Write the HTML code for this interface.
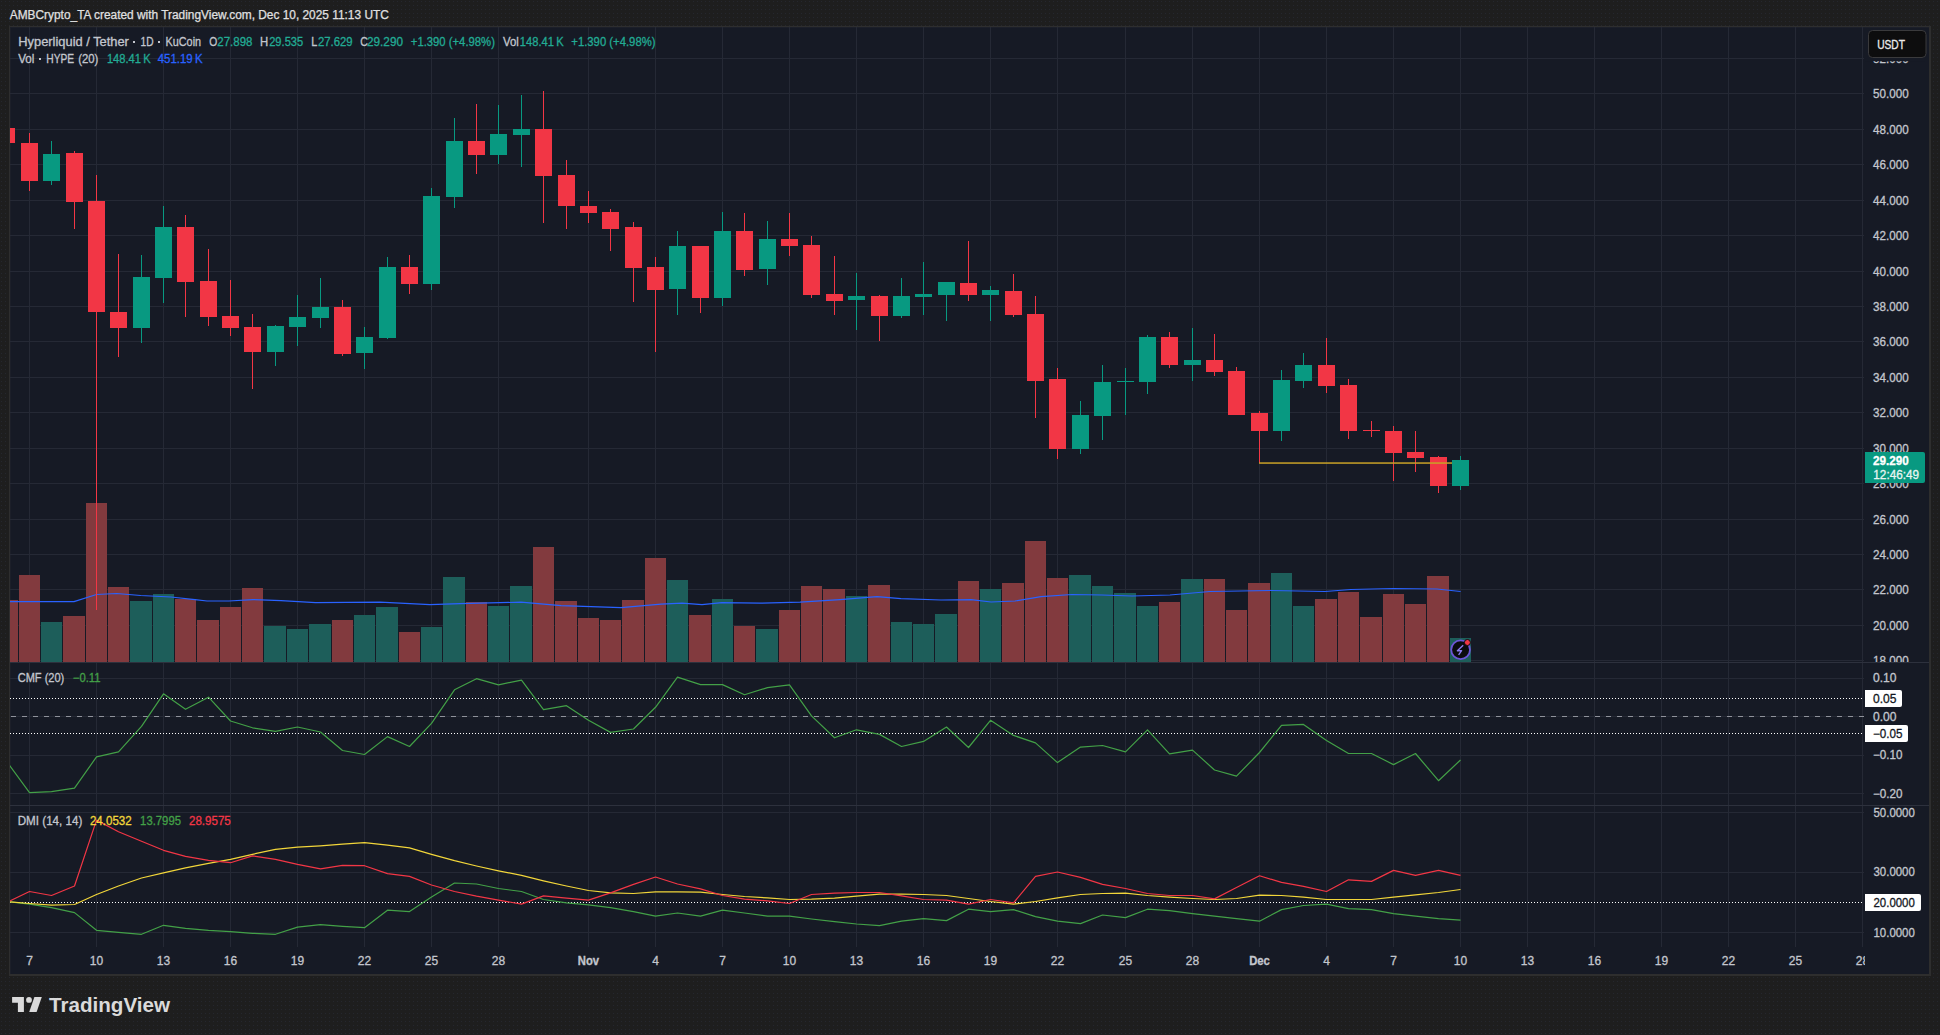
<!DOCTYPE html>
<html><head><meta charset="utf-8"><title>HYPEUSDT chart</title>
<style>
html,body{margin:0;padding:0;}
body{width:1940px;height:1035px;background:#1e1e1e;position:relative;overflow:hidden;font-family:'Liberation Sans', Arial, sans-serif;}
.hdr{position:absolute;left:10px;top:8px;font-size:12px;line-height:14px;color:#e0e0e0;white-space:nowrap;}
.logo{position:absolute;left:12px;top:993px;height:24px;}
.logo span{position:absolute;left:37px;top:-2px;font-size:20px;font-weight:bold;color:#d9d9d9;letter-spacing:-0.2px;white-space:nowrap;}
</style></head><body>
<svg width="1940" height="1035" viewBox="0 0 1940 1035" style="position:absolute;left:0;top:0"><defs><clipPath id="c1"><rect x="10" y="27" width="1854" height="635"/></clipPath><clipPath id="c2"><rect x="10" y="663" width="1854" height="142"/></clipPath><clipPath id="c3"><rect x="10" y="806" width="1854" height="140"/></clipPath><clipPath id="ct"><rect x="10" y="946" width="1855" height="28"/></clipPath><pattern id="dots" width="4" height="4" patternUnits="userSpaceOnUse"><rect x="1" y="1" width="1" height="1" fill="#25272e"/></pattern></defs><rect x="0" y="0" width="1940" height="1035" fill="url(#dots)"/><rect x="9" y="26" width="1922" height="950" fill="#2e2e2e"/><rect x="10" y="27" width="1919" height="947" fill="#1c1f29"/><rect x="11" y="28" width="1918" height="946" fill="#161a25"/><g shape-rendering="crispEdges" fill="#252935"><rect x="29" y="27" width="1" height="920"/><rect x="96" y="27" width="1" height="920"/><rect x="163" y="27" width="1" height="920"/><rect x="230" y="27" width="1" height="920"/><rect x="297" y="27" width="1" height="920"/><rect x="364" y="27" width="1" height="920"/><rect x="431" y="27" width="1" height="920"/><rect x="498" y="27" width="1" height="920"/><rect x="588" y="27" width="1" height="920"/><rect x="655" y="27" width="1" height="920"/><rect x="722" y="27" width="1" height="920"/><rect x="789" y="27" width="1" height="920"/><rect x="856" y="27" width="1" height="920"/><rect x="923" y="27" width="1" height="920"/><rect x="990" y="27" width="1" height="920"/><rect x="1057" y="27" width="1" height="920"/><rect x="1125" y="27" width="1" height="920"/><rect x="1192" y="27" width="1" height="920"/><rect x="1259" y="27" width="1" height="920"/><rect x="1326" y="27" width="1" height="920"/><rect x="1393" y="27" width="1" height="920"/><rect x="1460" y="27" width="1" height="920"/><rect x="1527" y="27" width="1" height="920"/><rect x="1594" y="27" width="1" height="920"/><rect x="1661" y="27" width="1" height="920"/><rect x="1728" y="27" width="1" height="920"/><rect x="1795" y="27" width="1" height="920"/><rect x="1862" y="27" width="1" height="920"/></g><g shape-rendering="crispEdges" fill="#252935"><rect x="10" y="660" width="1854" height="1"/><rect x="10" y="625" width="1854" height="1"/><rect x="10" y="589" width="1854" height="1"/><rect x="10" y="554" width="1854" height="1"/><rect x="10" y="519" width="1854" height="1"/><rect x="10" y="483" width="1854" height="1"/><rect x="10" y="448" width="1854" height="1"/><rect x="10" y="412" width="1854" height="1"/><rect x="10" y="377" width="1854" height="1"/><rect x="10" y="341" width="1854" height="1"/><rect x="10" y="306" width="1854" height="1"/><rect x="10" y="271" width="1854" height="1"/><rect x="10" y="235" width="1854" height="1"/><rect x="10" y="200" width="1854" height="1"/><rect x="10" y="164" width="1854" height="1"/><rect x="10" y="129" width="1854" height="1"/><rect x="10" y="93" width="1854" height="1"/><rect x="10" y="58" width="1854" height="1"/><rect x="10" y="678" width="1854" height="1"/><rect x="10" y="716" width="1854" height="1"/><rect x="10" y="755" width="1854" height="1"/><rect x="10" y="793" width="1854" height="1"/><rect x="10" y="812" width="1854" height="1"/><rect x="10" y="872" width="1854" height="1"/><rect x="10" y="932" width="1854" height="1"/></g><g clip-path="url(#c1)" shape-rendering="crispEdges"><rect x="-4" y="600" width="22" height="62" fill="#823a3e"/><rect x="19" y="575" width="21" height="87" fill="#823a3e"/><rect x="41" y="622" width="21" height="40" fill="#1d5e5a"/><rect x="63" y="616" width="22" height="46" fill="#823a3e"/><rect x="86" y="503" width="21" height="159" fill="#823a3e"/><rect x="108" y="587" width="21" height="75" fill="#823a3e"/><rect x="130" y="601" width="22" height="61" fill="#1d5e5a"/><rect x="153" y="594" width="21" height="68" fill="#1d5e5a"/><rect x="175" y="599" width="21" height="63" fill="#823a3e"/><rect x="197" y="620" width="22" height="42" fill="#823a3e"/><rect x="220" y="607" width="21" height="55" fill="#823a3e"/><rect x="242" y="588" width="21" height="74" fill="#823a3e"/><rect x="264" y="626" width="22" height="36" fill="#1d5e5a"/><rect x="287" y="629" width="21" height="33" fill="#1d5e5a"/><rect x="309" y="624" width="22" height="38" fill="#1d5e5a"/><rect x="332" y="620" width="21" height="42" fill="#823a3e"/><rect x="354" y="615" width="21" height="47" fill="#1d5e5a"/><rect x="376" y="607" width="22" height="55" fill="#1d5e5a"/><rect x="399" y="632" width="21" height="30" fill="#823a3e"/><rect x="421" y="627" width="21" height="35" fill="#1d5e5a"/><rect x="443" y="577" width="22" height="85" fill="#1d5e5a"/><rect x="466" y="602" width="21" height="60" fill="#823a3e"/><rect x="488" y="606" width="21" height="56" fill="#1d5e5a"/><rect x="510" y="586" width="22" height="76" fill="#1d5e5a"/><rect x="533" y="547" width="21" height="115" fill="#823a3e"/><rect x="555" y="601" width="22" height="61" fill="#823a3e"/><rect x="578" y="618" width="21" height="44" fill="#823a3e"/><rect x="600" y="620" width="21" height="42" fill="#823a3e"/><rect x="622" y="600" width="22" height="62" fill="#823a3e"/><rect x="645" y="558" width="21" height="104" fill="#823a3e"/><rect x="667" y="580" width="21" height="82" fill="#1d5e5a"/><rect x="689" y="615" width="22" height="47" fill="#823a3e"/><rect x="712" y="599" width="21" height="63" fill="#1d5e5a"/><rect x="734" y="626" width="21" height="36" fill="#823a3e"/><rect x="756" y="629" width="22" height="33" fill="#1d5e5a"/><rect x="779" y="610" width="21" height="52" fill="#823a3e"/><rect x="801" y="586" width="21" height="76" fill="#823a3e"/><rect x="823" y="589" width="22" height="73" fill="#823a3e"/><rect x="846" y="596" width="21" height="66" fill="#1d5e5a"/><rect x="868" y="585" width="22" height="77" fill="#823a3e"/><rect x="891" y="622" width="21" height="40" fill="#1d5e5a"/><rect x="913" y="624" width="21" height="38" fill="#1d5e5a"/><rect x="935" y="614" width="22" height="48" fill="#1d5e5a"/><rect x="958" y="581" width="21" height="81" fill="#823a3e"/><rect x="980" y="589" width="21" height="73" fill="#1d5e5a"/><rect x="1002" y="583" width="22" height="79" fill="#823a3e"/><rect x="1025" y="541" width="21" height="121" fill="#823a3e"/><rect x="1047" y="578" width="21" height="84" fill="#823a3e"/><rect x="1069" y="575" width="22" height="87" fill="#1d5e5a"/><rect x="1092" y="586" width="21" height="76" fill="#1d5e5a"/><rect x="1114" y="593" width="22" height="69" fill="#1d5e5a"/><rect x="1137" y="606" width="21" height="56" fill="#1d5e5a"/><rect x="1159" y="602" width="21" height="60" fill="#823a3e"/><rect x="1181" y="579" width="22" height="83" fill="#1d5e5a"/><rect x="1204" y="579" width="21" height="83" fill="#823a3e"/><rect x="1226" y="610" width="21" height="52" fill="#823a3e"/><rect x="1248" y="583" width="22" height="79" fill="#823a3e"/><rect x="1271" y="573" width="21" height="89" fill="#1d5e5a"/><rect x="1293" y="606" width="21" height="56" fill="#1d5e5a"/><rect x="1315" y="599" width="22" height="63" fill="#823a3e"/><rect x="1338" y="592" width="21" height="70" fill="#823a3e"/><rect x="1360" y="617" width="22" height="45" fill="#823a3e"/><rect x="1383" y="594" width="21" height="68" fill="#823a3e"/><rect x="1405" y="604" width="21" height="58" fill="#823a3e"/><rect x="1427" y="576" width="22" height="86" fill="#823a3e"/><rect x="1450" y="638" width="21" height="24" fill="#1d5e5a"/></g><polyline clip-path="url(#c1)" points="7,601.6 74,601.6 96.5,594.5 116.6,593.5 140.7,595.5 171,597 195,599.6 207,601 229,601 253,599.6 281,600.6 315.6,602.6 380,602.2 430,604.6 460,603.6 521,602.2 561,605.6 621,607.6 661,604.2 682,603.2 702,604.6 722,602.6 760,603.2 800,602.2 840,599.6 877,596.6 901,598.6 941,600 971,599.6 991,602 1015,601 1041,596.6 1072,594.5 1102,595 1132,596 1170,595 1210,591.5 1271,590.5 1325,591.5 1351,589.5 1393,588.5 1437,589 1460.6,591.5" fill="none" stroke="#2962ff" stroke-width="1.2" stroke-linejoin="round"/><g clip-path="url(#c1)" shape-rendering="crispEdges"><rect x="6" y="120" width="1" height="30" fill="#f23645"/><rect x="-2" y="128" width="17" height="15" fill="#f23645"/><rect x="29" y="133" width="1" height="58" fill="#f23645"/><rect x="21" y="143" width="17" height="38" fill="#f23645"/><rect x="51" y="141" width="1" height="44" fill="#089981"/><rect x="43" y="154" width="17" height="27" fill="#089981"/><rect x="74" y="151" width="1" height="78" fill="#f23645"/><rect x="66" y="153" width="17" height="49" fill="#f23645"/><rect x="96" y="175" width="1" height="435" fill="#f23645"/><rect x="88" y="201" width="17" height="111" fill="#f23645"/><rect x="118" y="254" width="1" height="103" fill="#f23645"/><rect x="110" y="312" width="17" height="16" fill="#f23645"/><rect x="141" y="255" width="1" height="88" fill="#089981"/><rect x="133" y="277" width="17" height="51" fill="#089981"/><rect x="163" y="206" width="1" height="97" fill="#089981"/><rect x="155" y="227" width="17" height="51" fill="#089981"/><rect x="185" y="215" width="1" height="102" fill="#f23645"/><rect x="177" y="227" width="17" height="55" fill="#f23645"/><rect x="208" y="249" width="1" height="77" fill="#f23645"/><rect x="200" y="281" width="17" height="36" fill="#f23645"/><rect x="230" y="280" width="1" height="56" fill="#f23645"/><rect x="222" y="316" width="17" height="12" fill="#f23645"/><rect x="252" y="314" width="1" height="75" fill="#f23645"/><rect x="244" y="327" width="17" height="25" fill="#f23645"/><rect x="275" y="325" width="1" height="41" fill="#089981"/><rect x="267" y="326" width="17" height="26" fill="#089981"/><rect x="297" y="295" width="1" height="51" fill="#089981"/><rect x="289" y="317" width="17" height="10" fill="#089981"/><rect x="320" y="278" width="1" height="50" fill="#089981"/><rect x="312" y="307" width="17" height="11" fill="#089981"/><rect x="342" y="300" width="1" height="56" fill="#f23645"/><rect x="334" y="307" width="17" height="47" fill="#f23645"/><rect x="364" y="327" width="1" height="42" fill="#089981"/><rect x="356" y="337" width="17" height="16" fill="#089981"/><rect x="387" y="257" width="1" height="82" fill="#089981"/><rect x="379" y="267" width="17" height="71" fill="#089981"/><rect x="409" y="255" width="1" height="39" fill="#f23645"/><rect x="401" y="267" width="17" height="17" fill="#f23645"/><rect x="431" y="188" width="1" height="102" fill="#089981"/><rect x="423" y="196" width="17" height="88" fill="#089981"/><rect x="454" y="118" width="1" height="90" fill="#089981"/><rect x="446" y="141" width="17" height="56" fill="#089981"/><rect x="476" y="104" width="1" height="70" fill="#f23645"/><rect x="468" y="141" width="17" height="14" fill="#f23645"/><rect x="498" y="105" width="1" height="59" fill="#089981"/><rect x="490" y="134" width="17" height="21" fill="#089981"/><rect x="521" y="95" width="1" height="72" fill="#089981"/><rect x="513" y="129" width="17" height="6" fill="#089981"/><rect x="543" y="91" width="1" height="132" fill="#f23645"/><rect x="535" y="129" width="17" height="47" fill="#f23645"/><rect x="566" y="160" width="1" height="69" fill="#f23645"/><rect x="558" y="175" width="17" height="31" fill="#f23645"/><rect x="588" y="191" width="1" height="32" fill="#f23645"/><rect x="580" y="206" width="17" height="7" fill="#f23645"/><rect x="610" y="209" width="1" height="42" fill="#f23645"/><rect x="602" y="212" width="17" height="17" fill="#f23645"/><rect x="633" y="222" width="1" height="80" fill="#f23645"/><rect x="625" y="227" width="17" height="41" fill="#f23645"/><rect x="655" y="257" width="1" height="95" fill="#f23645"/><rect x="647" y="267" width="17" height="23" fill="#f23645"/><rect x="677" y="231" width="1" height="84" fill="#089981"/><rect x="669" y="246" width="17" height="43" fill="#089981"/><rect x="700" y="246" width="1" height="67" fill="#f23645"/><rect x="692" y="246" width="17" height="52" fill="#f23645"/><rect x="722" y="212" width="1" height="94" fill="#089981"/><rect x="714" y="231" width="17" height="67" fill="#089981"/><rect x="744" y="213" width="1" height="63" fill="#f23645"/><rect x="736" y="231" width="17" height="39" fill="#f23645"/><rect x="767" y="221" width="1" height="64" fill="#089981"/><rect x="759" y="239" width="17" height="30" fill="#089981"/><rect x="789" y="213" width="1" height="43" fill="#f23645"/><rect x="781" y="239" width="17" height="7" fill="#f23645"/><rect x="811" y="236" width="1" height="62" fill="#f23645"/><rect x="803" y="245" width="17" height="50" fill="#f23645"/><rect x="834" y="256" width="1" height="59" fill="#f23645"/><rect x="826" y="294" width="17" height="7" fill="#f23645"/><rect x="856" y="273" width="1" height="57" fill="#089981"/><rect x="848" y="296" width="17" height="4" fill="#089981"/><rect x="879" y="295" width="1" height="46" fill="#f23645"/><rect x="871" y="296" width="17" height="20" fill="#f23645"/><rect x="901" y="278" width="1" height="40" fill="#089981"/><rect x="893" y="296" width="17" height="20" fill="#089981"/><rect x="923" y="262" width="1" height="53" fill="#089981"/><rect x="915" y="294" width="17" height="3" fill="#089981"/><rect x="946" y="282" width="1" height="39" fill="#089981"/><rect x="938" y="282" width="17" height="13" fill="#089981"/><rect x="968" y="241" width="1" height="60" fill="#f23645"/><rect x="960" y="283" width="17" height="12" fill="#f23645"/><rect x="990" y="286" width="1" height="35" fill="#089981"/><rect x="982" y="290" width="17" height="5" fill="#089981"/><rect x="1013" y="274" width="1" height="43" fill="#f23645"/><rect x="1005" y="291" width="17" height="24" fill="#f23645"/><rect x="1035" y="296" width="1" height="122" fill="#f23645"/><rect x="1027" y="314" width="17" height="67" fill="#f23645"/><rect x="1057" y="368" width="1" height="91" fill="#f23645"/><rect x="1049" y="379" width="17" height="70" fill="#f23645"/><rect x="1080" y="401" width="1" height="53" fill="#089981"/><rect x="1072" y="415" width="17" height="34" fill="#089981"/><rect x="1102" y="365" width="1" height="75" fill="#089981"/><rect x="1094" y="382" width="17" height="34" fill="#089981"/><rect x="1125" y="368" width="1" height="47" fill="#089981"/><rect x="1117" y="381" width="17" height="1" fill="#089981"/><rect x="1147" y="335" width="1" height="59" fill="#089981"/><rect x="1139" y="337" width="17" height="45" fill="#089981"/><rect x="1169" y="332" width="1" height="36" fill="#f23645"/><rect x="1161" y="337" width="17" height="28" fill="#f23645"/><rect x="1192" y="328" width="1" height="53" fill="#089981"/><rect x="1184" y="360" width="17" height="5" fill="#089981"/><rect x="1214" y="334" width="1" height="42" fill="#f23645"/><rect x="1206" y="360" width="17" height="12" fill="#f23645"/><rect x="1236" y="367" width="1" height="48" fill="#f23645"/><rect x="1228" y="371" width="17" height="44" fill="#f23645"/><rect x="1259" y="411" width="1" height="52" fill="#f23645"/><rect x="1251" y="413" width="17" height="18" fill="#f23645"/><rect x="1281" y="370" width="1" height="71" fill="#089981"/><rect x="1273" y="380" width="17" height="51" fill="#089981"/><rect x="1303" y="353" width="1" height="35" fill="#089981"/><rect x="1295" y="365" width="17" height="16" fill="#089981"/><rect x="1326" y="338" width="1" height="55" fill="#f23645"/><rect x="1318" y="365" width="17" height="21" fill="#f23645"/><rect x="1348" y="379" width="1" height="60" fill="#f23645"/><rect x="1340" y="385" width="17" height="46" fill="#f23645"/><rect x="1371" y="421" width="1" height="16" fill="#f23645"/><rect x="1363" y="430" width="17" height="1" fill="#f23645"/><rect x="1393" y="426" width="1" height="55" fill="#f23645"/><rect x="1385" y="431" width="17" height="22" fill="#f23645"/><rect x="1415" y="431" width="1" height="41" fill="#f23645"/><rect x="1407" y="452" width="17" height="6" fill="#f23645"/><rect x="1438" y="456" width="1" height="37" fill="#f23645"/><rect x="1430" y="457" width="17" height="29" fill="#f23645"/><rect x="1460" y="456" width="1" height="34" fill="#089981"/><rect x="1452" y="460" width="17" height="26" fill="#089981"/></g><rect x="1259" y="462.3" width="193" height="1.5" fill="#c9a227"/><rect x="10" y="662" width="1919" height="1" fill="#2d313d" shape-rendering="crispEdges"/><rect x="10" y="805" width="1919" height="1" fill="#2d313d" shape-rendering="crispEdges"/><line x1="10" y1="698.5" x2="1864" y2="698.5" stroke="#ffffff" stroke-width="1" stroke-dasharray="1 2"/><line x1="11" y1="716.5" x2="1864" y2="716.5" stroke="#8f929b" stroke-width="1" stroke-dasharray="5 6"/><line x1="10" y1="733.5" x2="1864" y2="733.5" stroke="#ffffff" stroke-width="1" stroke-dasharray="1 2"/><polyline clip-path="url(#c2)" points="6.5,761.3 29.5,792.7 51.5,791.7 74.5,788.1 96.5,756.9 118.5,751.9 141.5,726.4 163.5,693.8 185.5,709.3 208.5,697.2 230.5,721 252.5,727.8 275.5,731.4 297.5,727 320.5,732 342.5,750.5 364.5,754.5 387.5,736.6 409.5,746.5 431.5,723.4 454.5,689.8 476.5,678.7 498.5,684.8 521.5,680.1 543.5,709.7 566.5,705.7 588.5,720.3 610.5,732.4 633.5,729 655.5,707.3 677.5,677.1 700.5,684.6 722.5,684.6 744.5,694.8 767.5,687.6 789.5,684.8 811.5,715.9 834.5,737.8 856.5,729.8 879.5,734.4 901.5,746.5 923.5,741.4 946.5,727 968.5,747.5 990.5,720.3 1013.5,735.4 1035.5,742.9 1057.5,762.6 1080.5,747.1 1102.5,745.5 1125.5,751.9 1147.5,729.8 1169.5,753.9 1192.5,750.1 1214.5,770 1236.5,776.2 1259.5,752.5 1281.5,725.4 1303.5,724.4 1326.5,740.4 1348.5,753.5 1371.5,753.5 1393.5,764.6 1415.5,753.5 1438.5,780.7 1460.5,760" fill="none" stroke="#43a047" stroke-width="1.2" stroke-linejoin="round"/><line x1="10" y1="902.5" x2="1864" y2="902.5" stroke="#ffffff" stroke-width="1" stroke-dasharray="1 2"/><polyline clip-path="url(#c3)" points="6.5,901.5 29.5,904.1 51.5,907.6 74.5,912.6 96.5,930.3 118.5,932.3 141.5,934.3 163.5,925.3 185.5,928.3 208.5,930.3 230.5,931.7 252.5,933.3 275.5,934.3 297.5,927.1 320.5,924.6 342.5,926.3 364.5,927.7 387.5,910.2 409.5,911.6 431.5,896.9 454.5,883 476.5,884 498.5,888.5 521.5,891.5 543.5,899.5 566.5,902.9 588.5,904.9 610.5,907.6 633.5,911.6 655.5,916.2 677.5,913 700.5,916.2 722.5,910.2 744.5,913 767.5,916.2 789.5,916.2 811.5,919 834.5,921.6 856.5,924 879.5,925.7 901.5,921.2 923.5,918.6 946.5,920.6 968.5,909.2 990.5,911.6 1013.5,909.6 1035.5,916.6 1057.5,921.2 1080.5,923.6 1102.5,915 1125.5,917.6 1147.5,909.2 1169.5,910.6 1192.5,913.6 1214.5,916.2 1236.5,918.6 1259.5,921.2 1281.5,909.6 1303.5,905.5 1326.5,904.1 1348.5,908.6 1371.5,909.6 1393.5,913.6 1415.5,916.2 1438.5,918.6 1460.5,920.2" fill="none" stroke="#43a047" stroke-width="1.2" stroke-linejoin="round"/><polyline clip-path="url(#c3)" points="6.5,901.5 29.5,903.5 51.5,905.1 74.5,904.5 96.5,894.5 118.5,886 141.5,878 163.5,872.8 185.5,867.8 208.5,863.3 230.5,859.3 252.5,854.3 275.5,849.3 297.5,847.2 320.5,845.8 342.5,844.2 364.5,842.6 387.5,845.2 409.5,847.8 431.5,854.3 454.5,860.7 476.5,866 498.5,870.8 521.5,875.4 543.5,880.8 566.5,886 588.5,890.5 610.5,892.9 633.5,893.5 655.5,891.9 677.5,891.9 700.5,892.1 722.5,894.5 744.5,896.5 767.5,897.9 789.5,899.5 811.5,899.1 834.5,898.1 856.5,896.1 879.5,894.1 901.5,894.1 923.5,894.5 946.5,895.5 968.5,898.5 990.5,901.5 1013.5,904.1 1035.5,901.5 1057.5,897.9 1080.5,894.5 1102.5,893.5 1125.5,893.1 1147.5,895.5 1169.5,897.1 1192.5,898.5 1214.5,899.5 1236.5,898.5 1259.5,895.1 1281.5,895.5 1303.5,897.1 1326.5,899.5 1348.5,899.5 1371.5,899.5 1393.5,897.1 1415.5,894.9 1438.5,892.5 1460.5,889.5" fill="none" stroke="#f2d63a" stroke-width="1.2" stroke-linejoin="round"/><polyline clip-path="url(#c3)" points="6.5,902.5 29.5,891.5 51.5,895.5 74.5,886 96.5,820.1 118.5,831.8 141.5,841.2 163.5,850.3 185.5,856.3 208.5,860.3 230.5,862.7 252.5,855.9 275.5,859.3 297.5,864.3 320.5,868.8 342.5,865.3 364.5,865.7 387.5,873.6 409.5,876.4 431.5,885 454.5,891.5 476.5,896.1 498.5,900.1 521.5,904.1 543.5,895.9 566.5,898.1 588.5,900.1 610.5,892.9 633.5,884.4 655.5,877 677.5,884 700.5,888.9 722.5,895.5 744.5,899.1 767.5,900.9 789.5,903.5 811.5,894.5 834.5,893.1 856.5,892.5 879.5,892.5 901.5,895.9 923.5,899.5 946.5,900.1 968.5,904.1 990.5,899.5 1013.5,902.9 1035.5,876.4 1057.5,872 1080.5,877.4 1102.5,884.4 1125.5,888.5 1147.5,893.5 1169.5,895.5 1192.5,895.5 1214.5,898.9 1236.5,887.5 1259.5,875.8 1281.5,882.4 1303.5,886.4 1326.5,891.5 1348.5,879.8 1371.5,881.4 1393.5,870.4 1415.5,875.4 1438.5,870.4 1460.5,875.4" fill="none" stroke="#f23645" stroke-width="1.2" stroke-linejoin="round"/><g transform="translate(1460.6,649.8)"><circle r="9.4" fill="#0b0b0e" stroke="#6c55d6" stroke-width="1.8"/><path d="M2.6,-4.6 L-3.2,0.9 L1,0.9 L-2,5" fill="none" stroke="#8b7cf0" stroke-width="1.4" stroke-linejoin="round"/><circle cx="6.8" cy="-7.3" r="3" fill="#f23645" stroke="#0b0b0e" stroke-width="1"/></g><g font-family="'Liberation Sans', Arial, sans-serif" clip-path="url(#ct)"><text x="29.5" y="965.2" font-size="12" fill="#c3c6cd" stroke="#c3c6cd" stroke-width="0.3" text-anchor="middle">7</text><text x="96.5" y="965.2" font-size="12" fill="#c3c6cd" stroke="#c3c6cd" stroke-width="0.3" text-anchor="middle">10</text><text x="163.5" y="965.2" font-size="12" fill="#c3c6cd" stroke="#c3c6cd" stroke-width="0.3" text-anchor="middle">13</text><text x="230.5" y="965.2" font-size="12" fill="#c3c6cd" stroke="#c3c6cd" stroke-width="0.3" text-anchor="middle">16</text><text x="297.5" y="965.2" font-size="12" fill="#c3c6cd" stroke="#c3c6cd" stroke-width="0.3" text-anchor="middle">19</text><text x="364.5" y="965.2" font-size="12" fill="#c3c6cd" stroke="#c3c6cd" stroke-width="0.3" text-anchor="middle">22</text><text x="431.5" y="965.2" font-size="12" fill="#c3c6cd" stroke="#c3c6cd" stroke-width="0.3" text-anchor="middle">25</text><text x="498.5" y="965.2" font-size="12" fill="#c3c6cd" stroke="#c3c6cd" stroke-width="0.3" text-anchor="middle">28</text><text x="588.5" y="965.2" font-size="12" fill="#c3c6cd" stroke="#c3c6cd" stroke-width="0.3" text-anchor="middle" font-weight="bold" textLength="21.3" lengthAdjust="spacingAndGlyphs">Nov</text><text x="655.5" y="965.2" font-size="12" fill="#c3c6cd" stroke="#c3c6cd" stroke-width="0.3" text-anchor="middle">4</text><text x="722.5" y="965.2" font-size="12" fill="#c3c6cd" stroke="#c3c6cd" stroke-width="0.3" text-anchor="middle">7</text><text x="789.5" y="965.2" font-size="12" fill="#c3c6cd" stroke="#c3c6cd" stroke-width="0.3" text-anchor="middle">10</text><text x="856.5" y="965.2" font-size="12" fill="#c3c6cd" stroke="#c3c6cd" stroke-width="0.3" text-anchor="middle">13</text><text x="923.5" y="965.2" font-size="12" fill="#c3c6cd" stroke="#c3c6cd" stroke-width="0.3" text-anchor="middle">16</text><text x="990.5" y="965.2" font-size="12" fill="#c3c6cd" stroke="#c3c6cd" stroke-width="0.3" text-anchor="middle">19</text><text x="1057.5" y="965.2" font-size="12" fill="#c3c6cd" stroke="#c3c6cd" stroke-width="0.3" text-anchor="middle">22</text><text x="1125.5" y="965.2" font-size="12" fill="#c3c6cd" stroke="#c3c6cd" stroke-width="0.3" text-anchor="middle">25</text><text x="1192.5" y="965.2" font-size="12" fill="#c3c6cd" stroke="#c3c6cd" stroke-width="0.3" text-anchor="middle">28</text><text x="1259.5" y="965.2" font-size="12" fill="#c3c6cd" stroke="#c3c6cd" stroke-width="0.3" text-anchor="middle" font-weight="bold" textLength="20.7" lengthAdjust="spacingAndGlyphs">Dec</text><text x="1326.5" y="965.2" font-size="12" fill="#c3c6cd" stroke="#c3c6cd" stroke-width="0.3" text-anchor="middle">4</text><text x="1393.5" y="965.2" font-size="12" fill="#c3c6cd" stroke="#c3c6cd" stroke-width="0.3" text-anchor="middle">7</text><text x="1460.5" y="965.2" font-size="12" fill="#c3c6cd" stroke="#c3c6cd" stroke-width="0.3" text-anchor="middle">10</text><text x="1527.5" y="965.2" font-size="12" fill="#c3c6cd" stroke="#c3c6cd" stroke-width="0.3" text-anchor="middle">13</text><text x="1594.5" y="965.2" font-size="12" fill="#c3c6cd" stroke="#c3c6cd" stroke-width="0.3" text-anchor="middle">16</text><text x="1661.5" y="965.2" font-size="12" fill="#c3c6cd" stroke="#c3c6cd" stroke-width="0.3" text-anchor="middle">19</text><text x="1728.5" y="965.2" font-size="12" fill="#c3c6cd" stroke="#c3c6cd" stroke-width="0.3" text-anchor="middle">22</text><text x="1795.5" y="965.2" font-size="12" fill="#c3c6cd" stroke="#c3c6cd" stroke-width="0.3" text-anchor="middle">25</text><text x="1862.5" y="965.2" font-size="12" fill="#c3c6cd" stroke="#c3c6cd" stroke-width="0.3" text-anchor="middle">28</text></g><g font-family="'Liberation Sans', Arial, sans-serif"><text x="1873" y="664.8" font-size="12" fill="#c3c6cd" stroke="#c3c6cd" stroke-width="0.3" textLength="35.6" lengthAdjust="spacingAndGlyphs">18.000</text><text x="1873" y="629.8" font-size="12" fill="#c3c6cd" stroke="#c3c6cd" stroke-width="0.3" textLength="35.6" lengthAdjust="spacingAndGlyphs">20.000</text><text x="1873" y="593.8" font-size="12" fill="#c3c6cd" stroke="#c3c6cd" stroke-width="0.3" textLength="35.6" lengthAdjust="spacingAndGlyphs">22.000</text><text x="1873" y="558.8" font-size="12" fill="#c3c6cd" stroke="#c3c6cd" stroke-width="0.3" textLength="35.6" lengthAdjust="spacingAndGlyphs">24.000</text><text x="1873" y="523.8" font-size="12" fill="#c3c6cd" stroke="#c3c6cd" stroke-width="0.3" textLength="35.6" lengthAdjust="spacingAndGlyphs">26.000</text><text x="1873" y="487.8" font-size="12" fill="#c3c6cd" stroke="#c3c6cd" stroke-width="0.3" textLength="35.6" lengthAdjust="spacingAndGlyphs">28.000</text><text x="1873" y="452.8" font-size="12" fill="#c3c6cd" stroke="#c3c6cd" stroke-width="0.3" textLength="35.6" lengthAdjust="spacingAndGlyphs">30.000</text><text x="1873" y="416.8" font-size="12" fill="#c3c6cd" stroke="#c3c6cd" stroke-width="0.3" textLength="35.6" lengthAdjust="spacingAndGlyphs">32.000</text><text x="1873" y="381.8" font-size="12" fill="#c3c6cd" stroke="#c3c6cd" stroke-width="0.3" textLength="35.6" lengthAdjust="spacingAndGlyphs">34.000</text><text x="1873" y="345.8" font-size="12" fill="#c3c6cd" stroke="#c3c6cd" stroke-width="0.3" textLength="35.6" lengthAdjust="spacingAndGlyphs">36.000</text><text x="1873" y="310.8" font-size="12" fill="#c3c6cd" stroke="#c3c6cd" stroke-width="0.3" textLength="35.6" lengthAdjust="spacingAndGlyphs">38.000</text><text x="1873" y="275.8" font-size="12" fill="#c3c6cd" stroke="#c3c6cd" stroke-width="0.3" textLength="35.6" lengthAdjust="spacingAndGlyphs">40.000</text><text x="1873" y="239.8" font-size="12" fill="#c3c6cd" stroke="#c3c6cd" stroke-width="0.3" textLength="35.6" lengthAdjust="spacingAndGlyphs">42.000</text><text x="1873" y="204.8" font-size="12" fill="#c3c6cd" stroke="#c3c6cd" stroke-width="0.3" textLength="35.6" lengthAdjust="spacingAndGlyphs">44.000</text><text x="1873" y="168.8" font-size="12" fill="#c3c6cd" stroke="#c3c6cd" stroke-width="0.3" textLength="35.6" lengthAdjust="spacingAndGlyphs">46.000</text><text x="1873" y="133.8" font-size="12" fill="#c3c6cd" stroke="#c3c6cd" stroke-width="0.3" textLength="35.6" lengthAdjust="spacingAndGlyphs">48.000</text><text x="1873" y="97.8" font-size="12" fill="#c3c6cd" stroke="#c3c6cd" stroke-width="0.3" textLength="35.6" lengthAdjust="spacingAndGlyphs">50.000</text><text x="1873" y="62.8" font-size="12" fill="#c3c6cd" stroke="#c3c6cd" stroke-width="0.3" textLength="35.6" lengthAdjust="spacingAndGlyphs">52.000</text><text x="1873" y="682.4" font-size="12" fill="#c3c6cd" stroke="#c3c6cd" stroke-width="0.3" textLength="23.5" lengthAdjust="spacingAndGlyphs">0.10</text><text x="1873" y="720.9" font-size="12" fill="#c3c6cd" stroke="#c3c6cd" stroke-width="0.3" textLength="23.5" lengthAdjust="spacingAndGlyphs">0.00</text><text x="1873" y="759.1" font-size="12" fill="#c3c6cd" stroke="#c3c6cd" stroke-width="0.3" textLength="29.5" lengthAdjust="spacingAndGlyphs">−0.10</text><text x="1873" y="797.6" font-size="12" fill="#c3c6cd" stroke="#c3c6cd" stroke-width="0.3" textLength="29.5" lengthAdjust="spacingAndGlyphs">−0.20</text><text x="1873.5" y="816.9" font-size="12" fill="#c3c6cd" stroke="#c3c6cd" stroke-width="0.3" textLength="41.3" lengthAdjust="spacingAndGlyphs">50.0000</text><text x="1873.5" y="875.9" font-size="12" fill="#c3c6cd" stroke="#c3c6cd" stroke-width="0.3" textLength="41.3" lengthAdjust="spacingAndGlyphs">30.0000</text><text x="1873.5" y="936.8" font-size="12" fill="#c3c6cd" stroke="#c3c6cd" stroke-width="0.3" textLength="41.3" lengthAdjust="spacingAndGlyphs">10.0000</text></g><rect x="1864" y="662" width="65" height="1" fill="#2d313d"/><rect x="1865" y="663" width="64" height="8" fill="#161a25"/><rect x="1865" y="805" width="64" height="1" fill="#2d313d"/><g font-family="'Liberation Sans', Arial, sans-serif"><path d="M1865,690 H1900 Q1902,690 1902,692 V705 Q1902,707 1900,707 H1865 Z" fill="#ffffff"/><text x="1873" y="702.8" font-size="12" fill="#131722" stroke="#131722" stroke-width="0.3" textLength="23.5" lengthAdjust="spacingAndGlyphs">0.05</text><path d="M1865,725 H1906 Q1908,725 1908,727 V740 Q1908,742 1906,742 H1865 Z" fill="#ffffff"/><text x="1873" y="738" font-size="12" fill="#131722" stroke="#131722" stroke-width="0.3" textLength="29.5" lengthAdjust="spacingAndGlyphs">−0.05</text><path d="M1865,894 H1919 Q1921,894 1921,896 V909 Q1921,911 1919,911 H1865 Z" fill="#ffffff"/><text x="1873.5" y="906.8" font-size="12" fill="#131722" stroke="#131722" stroke-width="0.3" textLength="41.3" lengthAdjust="spacingAndGlyphs">20.0000</text><path d="M1865,452 H1923 Q1925,452 1925,454 V481 Q1925,483 1923,483 H1865 Z" fill="#089981"/><text x="1873" y="464.8" font-size="12" fill="#ffffff" stroke="#ffffff" stroke-width="0.3" font-weight="bold" textLength="35.8" lengthAdjust="spacingAndGlyphs">29.290</text><text x="1873.3" y="478.8" font-size="12" fill="#e8f5f2" stroke="#e8f5f2" stroke-width="0.3" textLength="45.8" lengthAdjust="spacingAndGlyphs">12:46:49</text><rect x="1865" y="57" width="60" height="4.2" fill="#161a25"/><rect x="1868.5" y="30.5" width="57.5" height="27" rx="4" fill="#0d0d0e" stroke="#3a3a3c" stroke-width="1"/><text x="1877.2" y="48.9" font-size="12" fill="#ececec" stroke="#ececec" stroke-width="0.3" textLength="27.8" lengthAdjust="spacingAndGlyphs">USDT</text></g><g font-family="'Liberation Sans', Arial, sans-serif"><text x="18.3" y="46.2" font-size="12" fill="#c3c6cd" stroke="#c3c6cd" stroke-width="0.3" textLength="110.6" lengthAdjust="spacingAndGlyphs">Hyperliquid / Tether</text><rect x="133" y="41" width="2" height="2" fill="#c3c6cd"/><text x="140.6" y="46.2" font-size="12" fill="#c3c6cd" stroke="#c3c6cd" stroke-width="0.3" textLength="13" lengthAdjust="spacingAndGlyphs">1D</text><rect x="158" y="41" width="2" height="2" fill="#c3c6cd"/><text x="165.5" y="46.2" font-size="12" fill="#c3c6cd" stroke="#c3c6cd" stroke-width="0.3" textLength="35.6" lengthAdjust="spacingAndGlyphs">KuCoin</text><text x="209.3" y="46.2" font-size="12" fill="#c3c6cd" stroke="#c3c6cd" stroke-width="0.3" textLength="8" lengthAdjust="spacingAndGlyphs">O</text><text x="217.3" y="46.2" font-size="12" fill="#22ab94" stroke="#22ab94" stroke-width="0.3" textLength="35.1" lengthAdjust="spacingAndGlyphs">27.898</text><text x="260" y="46.2" font-size="12" fill="#c3c6cd" stroke="#c3c6cd" stroke-width="0.3" textLength="8.2" lengthAdjust="spacingAndGlyphs">H</text><text x="269.2" y="46.2" font-size="12" fill="#22ab94" stroke="#22ab94" stroke-width="0.3" textLength="34" lengthAdjust="spacingAndGlyphs">29.535</text><text x="311.2" y="46.2" font-size="12" fill="#c3c6cd" stroke="#c3c6cd" stroke-width="0.3" textLength="6" lengthAdjust="spacingAndGlyphs">L</text><text x="317.9" y="46.2" font-size="12" fill="#22ab94" stroke="#22ab94" stroke-width="0.3" textLength="34.7" lengthAdjust="spacingAndGlyphs">27.629</text><text x="360.3" y="46.2" font-size="12" fill="#c3c6cd" stroke="#c3c6cd" stroke-width="0.3" textLength="7.5" lengthAdjust="spacingAndGlyphs">C</text><text x="367" y="46.2" font-size="12" fill="#22ab94" stroke="#22ab94" stroke-width="0.3" textLength="36" lengthAdjust="spacingAndGlyphs">29.290</text><text x="410.8" y="46.2" font-size="12" fill="#22ab94" stroke="#22ab94" stroke-width="0.3" textLength="84.1" lengthAdjust="spacingAndGlyphs">+1.390 (+4.98%)</text><text x="503" y="46.2" font-size="12" fill="#c3c6cd" stroke="#c3c6cd" stroke-width="0.3" textLength="15.8" lengthAdjust="spacingAndGlyphs">Vol</text><text x="519.8" y="46.2" font-size="12" fill="#22ab94" stroke="#22ab94" stroke-width="0.3" textLength="43.8" lengthAdjust="spacingAndGlyphs">148.41 K</text><text x="571.3" y="46.2" font-size="12" fill="#22ab94" stroke="#22ab94" stroke-width="0.3" textLength="84.2" lengthAdjust="spacingAndGlyphs">+1.390 (+4.98%)</text><text x="18.2" y="62.8" font-size="12" fill="#c3c6cd" stroke="#c3c6cd" stroke-width="0.3" textLength="16.2" lengthAdjust="spacingAndGlyphs">Vol</text><rect x="39" y="58" width="2" height="2" fill="#c3c6cd"/><text x="46.3" y="62.8" font-size="12" fill="#c3c6cd" stroke="#c3c6cd" stroke-width="0.3" textLength="27.8" lengthAdjust="spacingAndGlyphs">HYPE</text><text x="78.2" y="62.8" font-size="12" fill="#c3c6cd" stroke="#c3c6cd" stroke-width="0.3" textLength="20.2" lengthAdjust="spacingAndGlyphs">(20)</text><text x="106.9" y="62.8" font-size="12" fill="#22ab94" stroke="#22ab94" stroke-width="0.3" textLength="43.8" lengthAdjust="spacingAndGlyphs">148.41 K</text><text x="157.7" y="62.8" font-size="12" fill="#2962ff" stroke="#2962ff" stroke-width="0.3" textLength="44.9" lengthAdjust="spacingAndGlyphs">451.19 K</text><text x="17.7" y="681.9" font-size="12" fill="#c3c6cd" stroke="#c3c6cd" stroke-width="0.3" textLength="46.6" lengthAdjust="spacingAndGlyphs">CMF (20)</text><text x="72.8" y="681.9" font-size="12" fill="#43a047" stroke="#43a047" stroke-width="0.3" textLength="27.7" lengthAdjust="spacingAndGlyphs">−0.11</text><text x="17.7" y="825" font-size="12" fill="#c3c6cd" stroke="#c3c6cd" stroke-width="0.3" textLength="64.7" lengthAdjust="spacingAndGlyphs">DMI (14, 14)</text><text x="89.9" y="825" font-size="12" fill="#f2d63a" stroke="#f2d63a" stroke-width="0.3" textLength="41.8" lengthAdjust="spacingAndGlyphs">24.0532</text><text x="140.1" y="825" font-size="12" fill="#43a047" stroke="#43a047" stroke-width="0.3" textLength="40.9" lengthAdjust="spacingAndGlyphs">13.7995</text><text x="189" y="825" font-size="12" fill="#f23645" stroke="#f23645" stroke-width="0.3" textLength="41.8" lengthAdjust="spacingAndGlyphs">28.9575</text></g></svg>
<svg width="1940" height="1035" style="position:absolute;left:0;top:0" font-family="'Liberation Sans', Arial, sans-serif"><text x="9.8" y="19.1" font-size="12" fill="#e0e0e0" stroke="#e0e0e0" stroke-width="0.25" textLength="379" lengthAdjust="spacingAndGlyphs">AMBCrypto_TA created with TradingView.com, Dec 10, 2025 11:13 UTC</text>
<g transform="translate(12.1,997)" fill="#dadada"><path d="M0 0H11.8V15H5.8V5.8H0Z"/><circle cx="16.9" cy="2.9" r="2.9"/><path d="M22.3 0H29.7L24.5 15H17.1Z"/></g>
<text x="49" y="1012" font-size="20.4" font-weight="bold" fill="#dadada" textLength="121" lengthAdjust="spacingAndGlyphs">TradingView</text></svg>
</body></html>
